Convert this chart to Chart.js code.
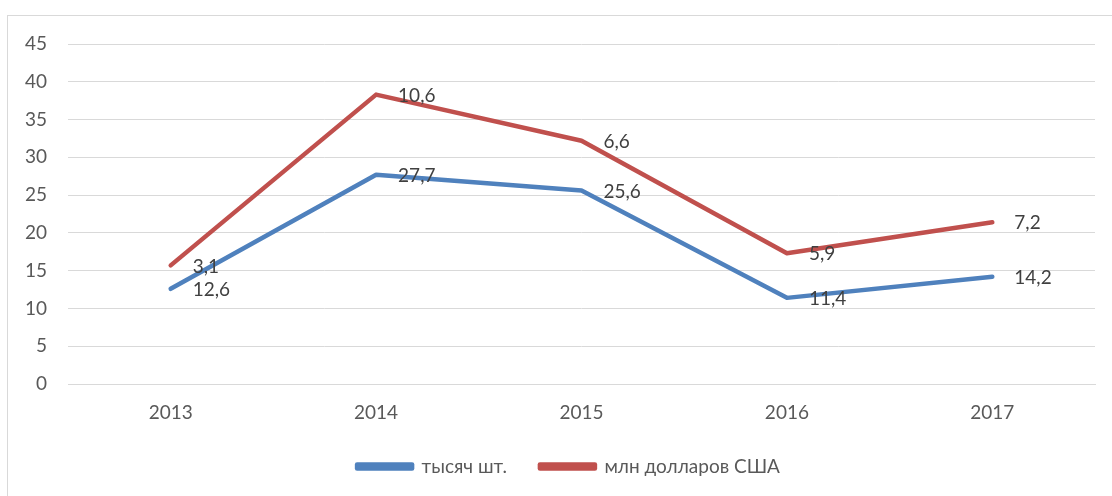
<!DOCTYPE html>
<html>
<head>
<meta charset="utf-8">
<script src="https://cdn.jsdelivr.net/npm/chart.js@4/dist/chart.umd.min.js"></script>
<style>
  html, body { margin: 0; padding: 0; background: #fff; }
  #wrap { position: relative; width: 1112px; height: 496px; }
  #frame { position: absolute; left: 7px; top: 15px; width: 1200px; height: 600px; border: 1px solid #d9d9d9; }
  #chart { position: absolute; left: 0; top: 0; }
</style>
</head>
<body>
<div id="wrap">
  <div id="frame"></div>
  <canvas id="chart" width="1112" height="496"></canvas>
</div>
<script>
// data
const years = ["2013", "2014", "2015", "2016", "2017"];
const units = [12.6, 27.7, 25.6, 11.4, 14.2];      // тысяч шт.
const dollars = [3.1, 10.6, 6.6, 5.9, 7.2];        // млн долларов США (stacked on top)
const yTicks = [0, 5, 10, 15, 20, 25, 30, 35, 40, 45];

const FONT = "Lato, 'Open Sans', sans-serif";

// value labels to the right of each point, Excel style
const pointLabels = {
  id: "pointLabels",
  afterDatasetsDraw(chart) {
    const { ctx } = chart;
    ctx.save();
    ctx.font = "19px " + FONT;
    ctx.fillStyle = "#404040";
    ctx.textAlign = "left";
    ctx.textBaseline = "middle";
    chart.data.datasets.forEach((ds, i) => {
      const meta = chart.getDatasetMeta(i);
      meta.data.forEach((pt, j) => {
        const txt = String(ds.data[j]).replace(".", ",");
        ctx.fillText(txt, pt.x + 22, pt.y + 1);
      });
    });
    ctx.restore();
  }
};

// nudge the legend a bit left so it sits where Excel put it
const legendNudge = {
  id: "legendNudge",
  afterLayout(chart) {
    if (!chart.legend) return;
    chart.legend.left -= 13;
    chart.legend.right -= 13;
  }
};

new Chart(document.getElementById("chart").getContext("2d"), {
  type: "line",
  data: {
    labels: years,
    datasets: [
      {
        label: "тысяч шт.",
        data: units,
        borderColor: "#4f81bd",
        backgroundColor: "#4f81bd",
        borderWidth: 4.5,
        borderCapStyle: "round",
        borderJoinStyle: "round",
        pointRadius: 0,
        tension: 0,
        fill: false
      },
      {
        label: "млн долларов США",
        data: dollars,
        borderColor: "#c0504d",
        backgroundColor: "#c0504d",
        borderWidth: 4.5,
        borderCapStyle: "round",
        borderJoinStyle: "round",
        pointRadius: 0,
        tension: 0,
        fill: false
      }
    ]
  },
  options: {
    responsive: false,
    animation: false,
    layout: { padding: { left: 0, right: 17, top: 44, bottom: 10 } },
    scales: {
      x: {
        offset: true,
        grid: { display: false, drawTicks: false },
        border: { display: true, color: "#d9d9d9", width: 1 },
        ticks: { color: "#595959", font: { family: FONT, size: 19 }, padding: 17 },
        afterFit(scale) { scale.height = 40; }
      },
      y: {
        stacked: true,
        min: 0,
        max: 45,
        afterBuildTicks(scale) { scale.ticks = yTicks.map(v => ({ value: v })); },
        grid: { color: "#d9d9d9", lineWidth: 1, drawTicks: false },
        border: { display: false },
        ticks: { color: "#595959", font: { family: FONT, size: 19 }, padding: 21 },
        afterFit(scale) { scale.width = 68; }
      }
    },
    plugins: {
      legend: {
        position: "bottom",
        fullSize: false,
        maxHeight: 62,
        labels: {
          color: "#595959",
          font: { family: FONT, size: 19 },
          boxWidth: 55,
          boxHeight: 4,
          padding: 33
        }
      },
      tooltip: { enabled: false }
    }
  },
  plugins: [pointLabels, legendNudge]
});
</script>
</body>
</html>
